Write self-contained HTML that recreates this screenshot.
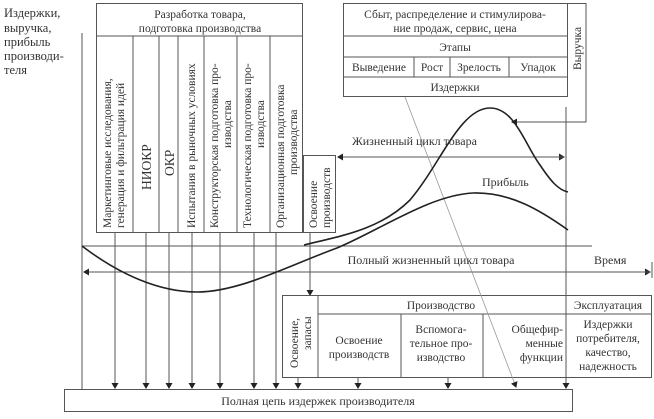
<!DOCTYPE html>
<html><head><meta charset="utf-8"><style>
html,body{margin:0;padding:0;background:#fff;}
svg text{fill:#333;font-size:11.5px;font-family:"Liberation Serif","DejaVu Serif",serif;}
</style></head><body>
<svg width="654" height="414" viewBox="0 0 654 414" xmlns="http://www.w3.org/2000/svg" font-family="Liberation Serif, serif">
<defs>
<marker id="a" markerWidth="6" markerHeight="8" refX="5" refY="4" orient="auto" markerUnits="userSpaceOnUse">
<path d="M0,0.5 L6,4 L0,7.5 Z" fill="#222"/></marker>
</defs>
<text x="4" y="17" style="font-size:12.5px">Издержки,</text>
<text x="4" y="32" style="font-size:12.5px">выручка,</text>
<text x="4" y="46" style="font-size:12.5px">прибыль</text>
<text x="4" y="60" style="font-size:12.5px">производи-</text>
<text x="4" y="74" style="font-size:12.5px">теля</text>

<g stroke="#555" stroke-width="1" fill="none">
<line x1="82" y1="33" x2="82" y2="389"/>
<line x1="82" y1="246" x2="592" y2="246"/>
<rect x="96.5" y="3.5" width="206" height="229"/>
<line x1="96.5" y1="36" x2="302.5" y2="36"/>
<line x1="133" y1="36" x2="133" y2="232"/>
<line x1="159" y1="36" x2="159" y2="232"/>
<line x1="178" y1="36" x2="178" y2="232"/>
<line x1="204" y1="36" x2="204" y2="232"/>
<line x1="237" y1="36" x2="237" y2="232"/>
<line x1="270" y1="36" x2="270" y2="232"/>
<rect x="343.5" y="3.5" width="224" height="93"/>
<line x1="343.5" y1="36" x2="567.5" y2="36"/>
<line x1="343.5" y1="57" x2="567.5" y2="57"/>
<line x1="343.5" y1="77" x2="567.5" y2="77"/>
<line x1="414" y1="57" x2="414" y2="77"/>
<line x1="450" y1="57" x2="450" y2="77"/>
<line x1="509" y1="57" x2="509" y2="77"/>
<polyline points="567.5,3.5 586,3.5 586,122 512,122" marker-end="url(#a)"/>
<line x1="566" y1="107" x2="566" y2="388" marker-end="url(#a)"/>
<rect x="303.5" y="155.5" width="32" height="77"/>
<line x1="338" y1="157" x2="564" y2="157" marker-end="url(#a)"/>
<line x1="564" y1="157" x2="338" y2="157" marker-end="url(#a)"/>
<line x1="86" y1="272" x2="650" y2="272" marker-end="url(#a)"/>
<line x1="650" y1="272" x2="84" y2="272" marker-end="url(#a)"/>
<line x1="652" y1="262" x2="652" y2="278"/>
<line x1="115" y1="232" x2="115" y2="388" marker-end="url(#a)"/>
<line x1="146" y1="232" x2="146" y2="388" marker-end="url(#a)"/>
<line x1="169" y1="232" x2="169" y2="388" marker-end="url(#a)"/>
<line x1="192" y1="232" x2="192" y2="388" marker-end="url(#a)"/>
<line x1="220" y1="232" x2="220" y2="388" marker-end="url(#a)"/>
<line x1="254" y1="232" x2="254" y2="388" marker-end="url(#a)"/>
<line x1="276" y1="232" x2="276" y2="388" marker-end="url(#a)"/>
<line x1="310" y1="232" x2="310" y2="295" marker-end="url(#a)"/>
<rect x="282.5" y="295.5" width="369" height="82"/>
<line x1="318" y1="314" x2="651.5" y2="314"/>
<line x1="318" y1="295.5" x2="318" y2="377.5"/>
<line x1="401" y1="314" x2="401" y2="377.5"/>
<line x1="483" y1="314" x2="483" y2="377.5"/>
<line x1="566" y1="295.5" x2="566" y2="377.5"/>
<line x1="298" y1="377" x2="298" y2="388" marker-end="url(#a)"/>
<line x1="358" y1="377" x2="358" y2="388" marker-end="url(#a)"/>
<line x1="448" y1="377" x2="448" y2="388" marker-end="url(#a)"/>
<rect x="64.5" y="389.5" width="508" height="22"/>
</g>
<line x1="405" y1="97" x2="516" y2="387" stroke="#999" stroke-width="0.8" marker-end="url(#a)"/>
<g stroke="#222" stroke-width="1.6" fill="none">
<path d="M82,246 C120,275 160,292 197,292 C240,292 290,265 337,248 C380,230 430,195 473,193 C510,192 540,210 568,230"/>
<path d="M304,245 C340,236 380,230 410,200 C440,165 460,108 490,108 C515,108 525,145 540,165 C550,180 558,190 568,192"/>
</g>
<text x="200" y="18" text-anchor="middle">Разработка товара,</text>
<text x="200" y="32" text-anchor="middle">подготовка производства</text>
<text transform="translate(111,228) rotate(-90)">Маркетинговые исследования,</text>
<text transform="translate(124,228) rotate(-90)">генерация и фильтрация идей</text>
<text transform="translate(151,190) rotate(-90)" style="font-size:13.5px">НИОКР</text>
<text transform="translate(174,176) rotate(-90)" style="font-size:13.5px">ОКР</text>
<text transform="translate(195,228) rotate(-90)">Испытания в рыночных условиях</text>
<text transform="translate(218,228) rotate(-90)">Конструкторская подготовка про-</text>
<text transform="translate(231,148) rotate(-90)">изводства</text>
<text transform="translate(251,228) rotate(-90)">Технологическая подготовка про-</text>
<text transform="translate(264,148) rotate(-90)">изводства</text>
<text transform="translate(284,228) rotate(-90)">Организационная подготовка</text>
<text transform="translate(297,175) rotate(-90)">производства</text>
<text transform="translate(317,228) rotate(-90)">Освоение</text>
<text transform="translate(330,228) rotate(-90)">производств</text>
<text x="455" y="18" text-anchor="middle">Сбыт, распределение и стимулирова-</text>
<text x="455" y="32" text-anchor="middle">ние продаж, сервис, цена</text>
<text x="455" y="51" text-anchor="middle">Этапы</text>
<text x="379" y="71" text-anchor="middle">Выведение</text>
<text x="432" y="71" text-anchor="middle">Рост</text>
<text x="479" y="71" text-anchor="middle">Зрелость</text>
<text x="538" y="71" text-anchor="middle">Упадок</text>
<text x="455" y="91" text-anchor="middle">Издержки</text>
<text transform="translate(581,70) rotate(-90)">Выручка</text>
<text x="352" y="145" style="font-size:12px">Жизненный  цикл  товара</text>
<text x="482" y="186" style="font-size:12px">Прибыль</text>
<text x="431" y="264" text-anchor="middle" style="font-size:12px">Полный жизненный цикл товара</text>
<text x="594" y="264" style="font-size:12px">Время</text>
<text x="441" y="309" text-anchor="middle">Производство</text>
<text x="608" y="309" text-anchor="middle">Эксплуатация</text>
<text transform="translate(298,368) rotate(-90)">Освоение,</text>
<text transform="translate(311,350) rotate(-90)">запасы</text>
<text x="359" y="344" text-anchor="middle">Освоение</text>
<text x="359" y="358" text-anchor="middle">производств</text>
<text x="441" y="333" text-anchor="middle">Вспомога-</text>
<text x="441" y="347" text-anchor="middle">тельное про-</text>
<text x="441" y="361" text-anchor="middle">изводство</text>
<text x="563" y="333" text-anchor="end">Общефир-</text>
<text x="563" y="347" text-anchor="end">менные</text>
<text x="563" y="361" text-anchor="end">функции</text>
<text x="608" y="328" text-anchor="middle">Издержки</text>
<text x="608" y="342" text-anchor="middle">потребителя,</text>
<text x="608" y="356" text-anchor="middle">качество,</text>
<text x="608" y="370" text-anchor="middle">надежность</text>
<text x="318" y="405" text-anchor="middle" style="font-size:12px">Полная цепь издержек производителя</text>
</svg>
</body></html>
